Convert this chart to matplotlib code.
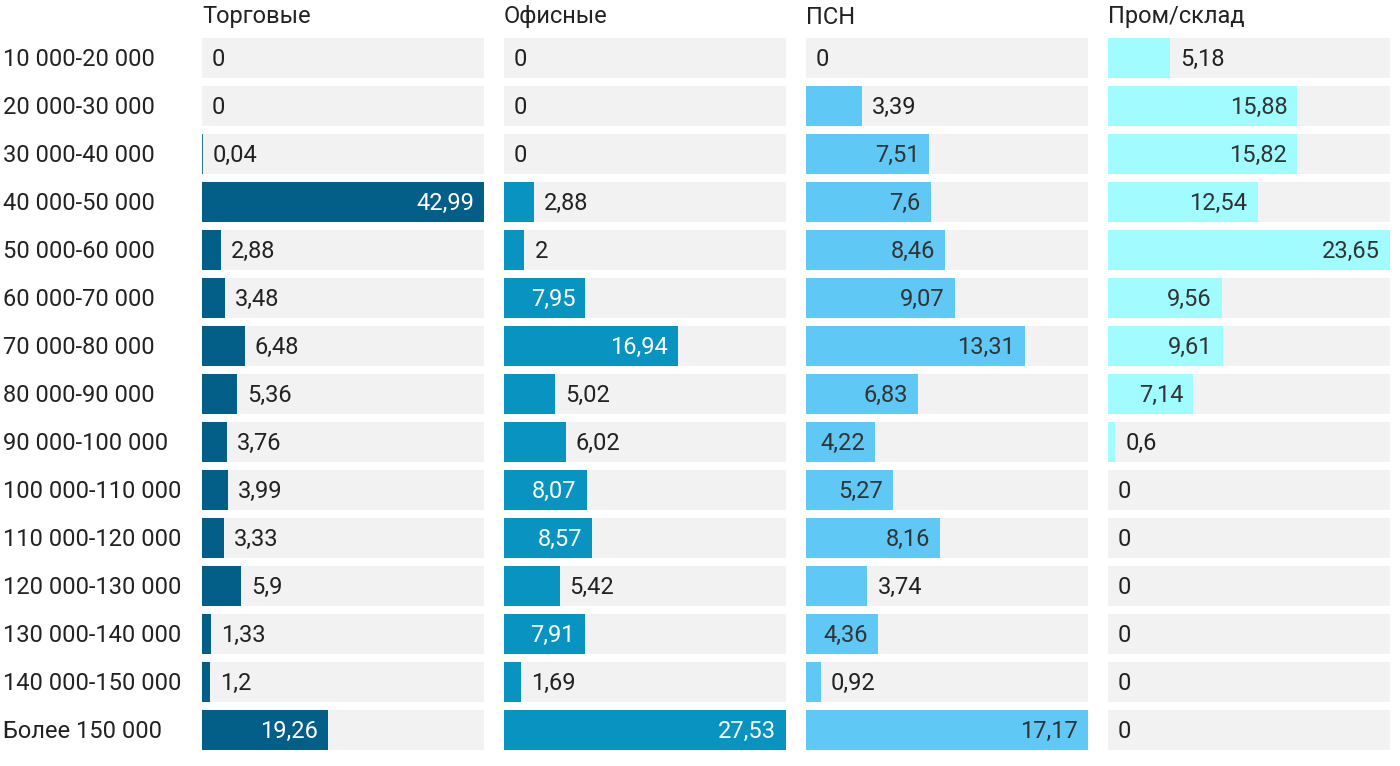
import matplotlib.pyplot as plt

plt.rcParams['font.family'] = ['Roboto', 'DejaVu Sans']

rows = [
    "10 000-20 000", "20 000-30 000", "30 000-40 000", "40 000-50 000",
    "50 000-60 000", "60 000-70 000", "70 000-80 000", "80 000-90 000",
    "90 000-100 000", "100 000-110 000", "110 000-120 000", "120 000-130 000",
    "130 000-140 000", "140 000-150 000", "Более 150 000",
]

titles = ["Торговые", "Офисные", "ПСН", "Пром/склад"]

trade = [0, 0, 0.04, 42.99, 2.88, 3.48, 6.48, 5.36, 3.76, 3.99, 3.33, 5.9, 1.33, 1.2, 19.26]
office = [0, 0, 0, 2.88, 2, 7.95, 16.94, 5.02, 6.02, 8.07, 8.57, 5.42, 7.91, 1.69, 27.53]
psn = [0, 3.39, 7.51, 7.6, 8.46, 9.07, 13.31, 6.83, 4.22, 5.27, 8.16, 3.74, 4.36, 0.92, 17.17]
industrial = [5.18, 15.88, 15.82, 12.54, 23.65, 9.56, 9.61, 7.14, 0.6, 0, 0, 0, 0, 0, 0]

series = [trade, office, psn, industrial]
colors = ["#035f87", "#0893c0", "#5fc8f5", "#a0fcfe"]
inside_colors = ["white", "white", "#333333", "#333333"]

W, H = 1400, 766
FS = 17
fig = plt.figure(figsize=(W / 100, H / 100), dpi=100)
renderer = fig.canvas.get_renderer()

col_left = [202, 504, 806, 1108]
col_w = 282
top_px, bot_px = 34, 754
pad_px = 10

for k, (vals, title) in enumerate(zip(series, titles)):
    ax = fig.add_axes([col_left[k] / W, 1 - bot_px / H, col_w / W, (bot_px - top_px) / H])
    vmax = max(vals)
    n = len(rows)
    px_per_unit = col_w / vmax
    ax.barh(range(n), [vmax] * n, height=40 / 48, color="#f2f2f2")
    # tiny non-zero values still get a visible sliver
    ax.barh(range(n), vals, height=40 / 48, color=colors[k], edgecolor=colors[k],
            linewidth=[1.2 if 0 < v * px_per_unit < 2 else 0 for v in vals])
    ax.set_xlim(0, vmax)
    ax.set_ylim(n - 0.5, -0.5)
    ax.axis("off")
    pad = pad_px / px_per_unit
    for i, v in enumerate(vals):
        label = f"{v:g}".replace(".", ",")
        t = ax.text(0, i - 0.02, label, fontsize=FS, va="center_baseline")
        tw = t.get_window_extent(renderer).width
        bar_px = v * px_per_unit
        if bar_px >= tw + 2 * pad_px:
            t.set_position((v - pad, i - 0.02))
            t.set_ha("right")
            t.set_color(inside_colors[k])
        else:
            t.set_position((v + pad, i - 0.02))
            t.set_ha("left")
            t.set_color("#222222")
    fig.text(col_left[k] / W, 1 - 14.5 / H, title, fontsize=FS, color="#222222",
             ha="left", va="center_baseline")

for i, r in enumerate(rows):
    y = 57 + 48 * i
    fig.text(3 / W, 1 - y / H, r, fontsize=FS, color="#222222", ha="left",
             va="center_baseline")

fig.savefig("out.png", dpi=100)
